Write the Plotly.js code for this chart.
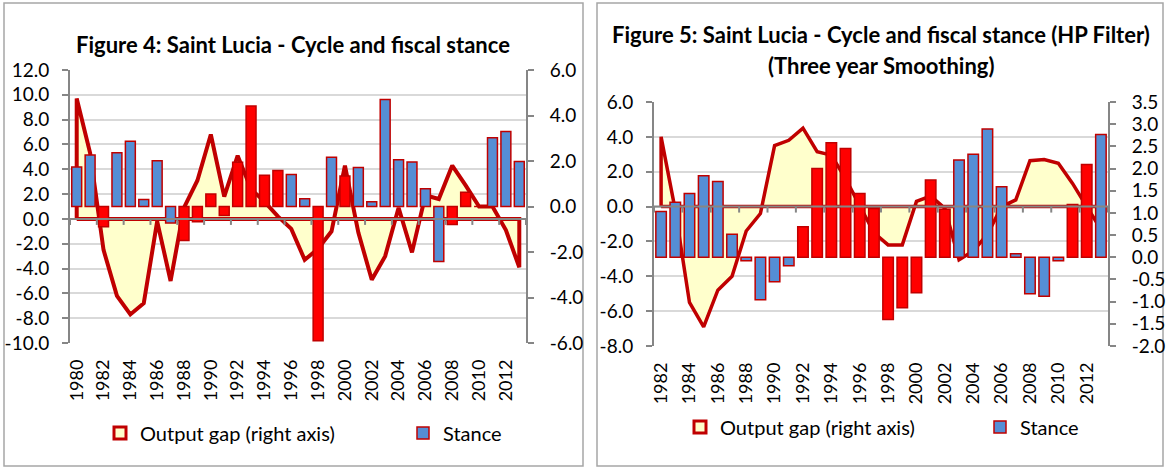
<!DOCTYPE html>
<html><head><meta charset="utf-8">
<script src="https://cdn.plot.ly/plotly-3.0.1.min.js"></script>
<style>html,body{margin:0;padding:0;background:#fff}#chart{width:1166px;height:468px}</style>
</head><body><div id="chart"></div>
<script>
// ---------- Figure 4 data (1980-2013) ----------
const years4 = [1980,1981,1982,1983,1984,1985,1986,1987,1988,1989,1990,1991,1992,1993,1994,1995,1996,1997,1998,1999,2000,2001,2002,2003,2004,2005,2006,2007,2008,2009,2010,2011,2012,2013];
const gap4 = [9.7,5.3,-2.5,-6.2,-7.7,-6.8,-0.2,-5.0,0.9,3.1,6.8,1.8,5.1,2.4,1.4,0.2,-0.8,-3.3,-2.4,-1.0,4.3,-1.1,-4.9,-3.0,0.9,-2.7,1.9,1.6,4.3,2.7,1.0,1.0,-0.9,-3.9];
const stance4 = [1.74,2.26,-0.89,2.36,2.87,0.31,2.01,-0.72,-1.5,-0.67,0.55,-0.4,1.95,4.42,1.37,1.58,1.41,0.34,-5.9,2.17,1.34,1.71,0.21,4.7,2.06,1.96,0.78,-2.42,-0.79,0.63,0.0,3.02,3.3,1.98];
const procyclical4 = [0,0,1,0,0,0,0,0,1,1,1,1,1,1,1,1,0,0,1,0,1,0,0,0,0,0,0,0,1,1,0,0,0,0];
const yTicksLeft4 = [-10,-8,-6,-4,-2,0,2,4,6,8,10,12];
const yTicksRight4 = [-6,-4,-2,0,2,4,6];
const xTickYears4 = [1980,1982,1984,1986,1988,1990,1992,1994,1996,1998,2000,2002,2004,2006,2008,2010,2012];

// ---------- Figure 5 data (1982-2013) ----------
const years5 = [1982,1983,1984,1985,1986,1987,1988,1989,1990,1991,1992,1993,1994,1995,1996,1997,1998,1999,2000,2001,2002,2003,2004,2005,2006,2007,2008,2009,2010,2011,2012,2013];
const gap5 = [4.0,-0.2,-5.5,-6.9,-4.8,-4.0,-1.4,-0.4,3.5,3.8,4.5,3.15,2.95,1.6,0.0,-1.5,-2.2,-2.2,0.3,0.6,-0.1,-3.05,-2.55,-1.6,0.0,0.38,2.63,2.7,2.48,1.33,0.0,-1.3];
const stance5 = [1.03,1.24,1.44,1.84,1.71,0.52,-0.08,-0.96,-0.55,-0.19,0.69,2.0,2.58,2.45,1.44,1.1,-1.4,-1.14,-0.8,1.74,1.08,2.19,2.32,2.89,1.59,0.08,-0.82,-0.88,-0.08,1.19,2.09,2.77];
const procyclical5 = [0,0,0,0,0,0,0,0,0,0,1,1,1,1,1,1,1,1,1,1,1,0,0,0,0,0,0,0,0,1,1,0];
const yTicksLeft5 = [-8,-6,-4,-2,0,2,4,6];
const yTicksRight5 = [-2,-1.5,-1,-0.5,0,0.5,1,1.5,2,2.5,3,3.5];
const xTickYears5 = [1982,1984,1986,1988,1990,1992,1994,1996,1998,2000,2002,2004,2006,2008,2010,2012];

const titles = {
  f4: 'Figure 4: Saint Lucia - Cycle and fiscal stance',
  f5a: 'Figure 5: Saint Lucia - Cycle and fiscal stance (HP Filter)',
  f5b: '(Three year Smoothing)'
};
const legendNames = {gap: 'Output gap (right axis)', stance: 'Stance'};

// ---------- styling ----------
const W = 1166, H = 468;
const FONT = 'Lato, "Open Sans", sans-serif';
const DARKRED = '#C00000', RED = '#FF0000', BLUE = '#558ED5', CREAM = '#FFFFCC';
const GRID = '#D9D9D9', AXIS = '#868686';
const px = x => x / W, py = y => 1 - y / H;
const fmt = v => v.toFixed(1);

function areaTrace(years, vals, xa, ya, lw) {
  const n = years.length;
  return {
    type: 'scatter', mode: 'lines', x: [years[0]].concat(years, [years[n-1], years[0]]),
    y: [0].concat(vals, [0, 0]), fill: 'toself', fillcolor: CREAM,
    line: {color: DARKRED, width: lw}, xaxis: xa, yaxis: ya,
    showlegend: false, hoverinfo: 'skip'
  };
}
function barTrace(years, vals, flags, xa, ya, leg) {
  return {
    type: 'bar', x: years, y: vals, xaxis: xa, yaxis: ya, width: 0.74,
    marker: {color: flags.map(f => f ? RED : BLUE), line: {color: DARKRED, width: 1.5}},
    name: legendNames.stance, legend: leg
  };
}
function legendGapTrace(years, xa, ya, leg) {
  return {
    type: 'bar', x: [years[0]], y: [null], xaxis: xa, yaxis: ya,
    marker: {color: CREAM, line: {color: DARKRED, width: 3}},
    name: legendNames.gap, legend: leg, hoverinfo: 'skip'
  };
}

const data = [
  areaTrace(years4, gap4, 'x', 'y', 4),
  legendGapTrace(years4, 'x', 'y2', 'legend'),
  barTrace(years4, stance4, procyclical4, 'x', 'y2', 'legend2'),
  areaTrace(years5, gap5, 'x2', 'y3', 3.5),
  legendGapTrace(years5, 'x2', 'y4', 'legend3'),
  barTrace(years5, stance5, procyclical5, 'x2', 'y4', 'legend4')
];

const yTickFont = {family: FONT, size: 19, color: '#000'};
const xTickFont = {family: FONT, size: 18, color: '#000'};
function yAxis(dom, ticks, range, extra) {
  return Object.assign({
    domain: dom, range: range, tickmode: 'array', tickvals: ticks, ticktext: ticks.map(fmt),
    showline: true, linecolor: AXIS, linewidth: 2, ticks: 'outside', ticklen: 6,
    tickcolor: AXIS, tickwidth: 2, zeroline: false, tickfont: yTickFont, fixedrange: true,
    ticklabelstandoff: 9, automargin: false
  }, extra);
}
function xAxis(dom, years, ticks, anchor) {
  return {
    domain: dom, range: [years[0] - 0.5, years[years.length-1] + 0.5], anchor: anchor,
    tickmode: 'array', tickvals: ticks, ticktext: ticks.map(String), tickangle: -90,
    ticks: '', showgrid: false, zeroline: false, showline: false, tickfont: xTickFont,
    ticklabelstandoff: 12, fixedrange: true, automargin: false
  };
}

const dom4x = [px(70), px(526)], dom4y = [py(343), py(70)];
const dom5x = [px(654), px(1108)], dom5y = [py(346), py(102)];

// zero line with category tick marks (every two years, between categories)
function zeroShapes(years, xa, ya) {
  const s = [];
  const x0 = years[0] - 0.5, x1 = years[years.length-1] + 0.5;
  s.push({type: 'line', xref: xa, yref: ya, x0: x0, x1: x1, y0: 0, y1: 0,
          line: {color: AXIS, width: 2}, layer: 'above'});
  for (let b = x0; b <= x1 + 0.01; b += 2) {
    s.push({type: 'line', xref: xa, yref: ya, ysizemode: 'pixel', yanchor: 0,
            x0: b, x1: b, y0: 0, y1: -6, line: {color: AXIS, width: 2}, layer: 'above'});
  }
  return s;
}

const frames = [
  {type: 'rect', xref: 'paper', yref: 'paper', x0: px(4), x1: px(583), y0: py(466), y1: py(3),
   line: {color: '#A6A6A6', width: 1.5}, layer: 'below'},
  {type: 'rect', xref: 'paper', yref: 'paper', x0: px(597), x1: px(1163), y0: py(466), y1: py(3),
   line: {color: '#A6A6A6', width: 1.5}, layer: 'below'}
];

const titleFont = {family: FONT, size: 22, color: '#000'};
function legendAt(xPix, yPix) {
  return {orientation: 'h', x: px(xPix), y: py(yPix), xanchor: 'left', yanchor: 'middle',
          itemwidth: 30, font: {family: FONT, size: 20, color: '#000'},
          bgcolor: 'rgba(0,0,0,0)', borderwidth: 0, itemclick: false, itemdoubleclick: false};
}
const layout = {
  width: W, height: H, margin: {l: 0, r: 0, t: 0, b: 0, autoexpand: false},
  paper_bgcolor: '#fff', plot_bgcolor: 'rgba(0,0,0,0)',
  barmode: 'overlay',
  font: {family: FONT, color: '#000'},
  xaxis: xAxis(dom4x, years4, xTickYears4, 'y'),
  yaxis: yAxis(dom4y, yTicksLeft4, [-10, 12], {showgrid: true, gridcolor: GRID, gridwidth: 2, anchor: 'x'}),
  yaxis2: yAxis(dom4y, yTicksRight4, [-6, 6], {overlaying: 'y', side: 'right', showgrid: false, anchor: 'x', ticklabelstandoff: 12}),
  xaxis2: xAxis(dom5x, years5, xTickYears5, 'y3'),
  yaxis3: yAxis(dom5y, yTicksLeft5, [-8, 6], {showgrid: true, gridcolor: GRID, gridwidth: 2, anchor: 'x2'}),
  yaxis4: yAxis(dom5y, yTicksRight5, [-2, 3.5], {overlaying: 'y3', side: 'right', showgrid: false, anchor: 'x2', ticklabelstandoff: 12}),
  shapes: frames.concat(zeroShapes(years4, 'x', 'y'), zeroShapes(years5, 'x2', 'y3')),
  annotations: [
    {xref: 'paper', yref: 'paper', x: px(293), y: py(44), text: '<b>' + titles.f4 + '</b>', showarrow: false, font: titleFont, xanchor: 'center', yanchor: 'middle'},
    {xref: 'paper', yref: 'paper', x: px(881), y: py(35), text: '<b>' + titles.f5a + '</b>', showarrow: false, font: titleFont, xanchor: 'center', yanchor: 'middle'},
    {xref: 'paper', yref: 'paper', x: px(881), y: py(66), text: '<b>' + titles.f5b + '</b>', showarrow: false, font: titleFont, xanchor: 'center', yanchor: 'middle'}
  ],
  legend: legendAt(100, 433),
  legend2: legendAt(403, 433),
  legend3: legendAt(680, 427),
  legend4: legendAt(980, 427),
  hovermode: false
};

Plotly.newPlot('chart', data, layout, {displayModeBar: false, staticPlot: true});
</script></body></html>
